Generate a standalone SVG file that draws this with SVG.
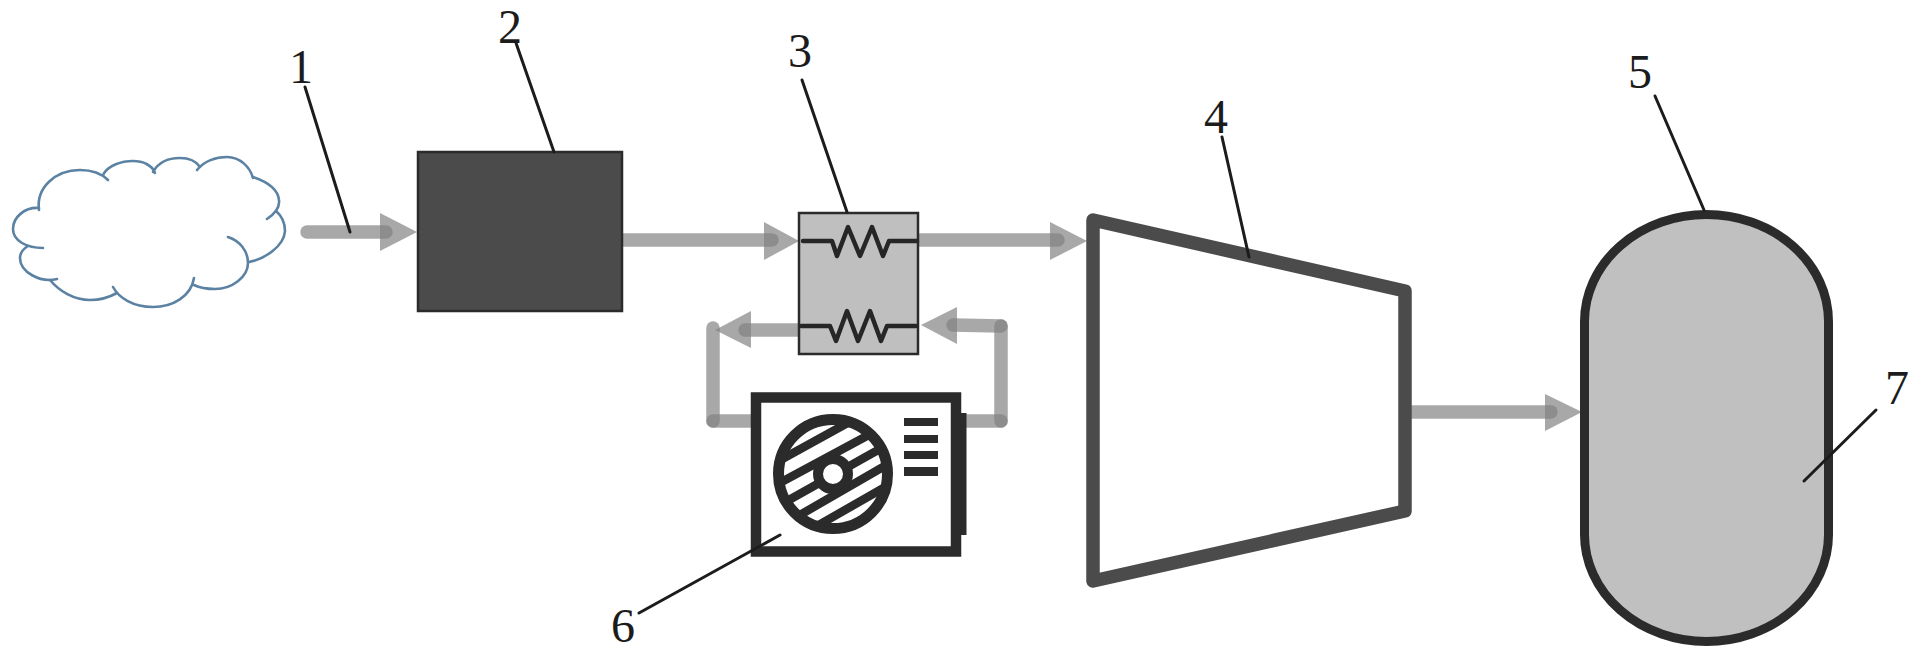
<svg xmlns="http://www.w3.org/2000/svg" width="1923" height="661" viewBox="0 0 1923 661">
<style>
.pipe{fill:none;stroke:#808080;stroke-opacity:.685;stroke-width:13.500;stroke-linecap:round;stroke-linejoin:round}
.head{fill:#808080;fill-opacity:.685}
.leader{fill:none;stroke:#1c1c1c;stroke-width:3;stroke-linecap:round}
.num{font-family:"Liberation Serif","Times New Roman",serif;font-size:48px;fill:#1c1c1c;text-anchor:middle}
.cloud{fill:none;stroke:#5b82a3;stroke-width:2.600;stroke-linecap:round}
.coil{fill:none;stroke:#262626;stroke-width:4.500;stroke-linejoin:round;stroke-linecap:round}
.stripe{fill:none;stroke:#2b2b2b;stroke-width:8.500}
.bar{fill:#2b2b2b}
</style>
<defs><clipPath id="fan"><circle cx="833" cy="474" r="56"/></clipPath></defs>
<rect width="1923" height="661" fill="#fff"/>
<g id="node-cloud" class="cloud">
<path d="M39,210C36,188 55,170 80,170C92,170 102,174 108,180"/>
<path d="M103,175C108,165 122,161 133,161C143,161 152,165 155,173"/>
<path d="M153,172C158,163 168,158 180,158C189,158 196,161 200,167"/>
<path d="M197,170C204,161 216,157 227,157C240,157 250,167 253,178"/>
<path d="M253,177C268,182 278,190 279,200C280,208 273,215 267,219"/>
<path d="M276,211C283,217 285,224 285,231C284,246 265,259 249,262"/>
<path d="M228,237C240,241 248,251 248,263C248,277 232,289 215,289C207,289 200,288 194,285"/>
<path d="M194,278C191,297 172,307 153,307C133,307 119,298 113,287"/>
<path d="M117,293C108,298 98,300 90,300C74,300 59,291 50,280"/>
<path d="M57,279C40,283 20,272 20,258C20,253 23,249 28,246"/>
<path d="M43,248C27,248 13,241 13,229C13,217 25,207 39,208"/>
</g>
<g id="connectors">
<path class="pipe" d="M307,232H386"/><polygon class="head" points="380,213 417,232 380,251"/>
<path class="pipe" d="M615,240H772"/><polygon class="head" points="764,222 799,241 764,260"/>
<path class="pipe" d="M910,240H1058"/><polygon class="head" points="1050,222 1087,241 1050,260"/>
<path class="pipe" d="M1400,412H1551"/><polygon class="head" points="1545,394 1582,412 1545,431"/>
<path class="pipe" d="M805,330H745"/><polygon class="head" points="751,311 715,330 751,348"/>
<path class="pipe" d="M713,328V421"/><path class="pipe" d="M713,421H760"/>
<path class="pipe" d="M1001,326L953,325"/><polygon class="head" points="957,307 921,325 957,344"/>
<path class="pipe" d="M1001,326V421"/><path class="pipe" d="M955,421H1001"/>
</g>
<g id="node-2"><rect x="418" y="152" width="204" height="159" fill="#4b4b4b" stroke="#2b2b2b" stroke-width="2.500"/></g>
<g id="node-3">
<rect x="799" y="213" width="119" height="141" fill="#bfbfbf" stroke="#2b2b2b" stroke-width="2.500"/>
<path class="coil" d="M803,241H832L837,256L848,227L860,256L872,227L883,256L889,241H917"/>
<path class="coil" d="M801,326H830L836,341L847,311L858,341L870,311L881,341L887,326H916"/>
</g>
<g id="node-4"><path d="M1093,220L1405,291V511L1093,581Z" fill="#fff" stroke="#4b4b4b" stroke-width="13.500" stroke-linejoin="round"/></g>
<g id="node-5"><rect x="1584.500" y="214.500" width="244" height="427" rx="122" ry="107" fill="#c0c0c0" stroke="#2b2b2b" stroke-width="9"/></g>
<g id="node-6">
<rect x="961" y="413" width="5.500" height="122" fill="#2b2b2b"/>
<rect x="756" y="397.500" width="200" height="154" fill="#fff" stroke="#2b2b2b" stroke-width="10.500"/>
<g class="stripe" clip-path="url(#fan)">
<path d="M773,464L853,420M774,486L878,430M780,505L887,445M793,519L890,463M803,534L887,486"/>
</g>
<circle cx="833" cy="474" r="54.500" fill="none" stroke="#2b2b2b" stroke-width="11"/>
<circle cx="833" cy="474" r="15" fill="#fff" stroke="#2b2b2b" stroke-width="10"/>
<rect class="bar" x="904" y="418" width="34" height="8"/>
<rect class="bar" x="904" y="435" width="34" height="8"/>
<rect class="bar" x="904" y="451" width="34" height="8"/>
<rect class="bar" x="904" y="467" width="34" height="9"/>
</g>
<g id="leaders">
<path class="leader" d="M305,87L350,232"/>
<path class="leader" d="M516,43L554,152"/>
<path class="leader" d="M802,80L847,212"/>
<path class="leader" d="M1222,137L1249,257"/>
<path class="leader" d="M1655,96L1704,210"/>
<path class="leader" d="M639,613L780,535"/>
<path class="leader" d="M1876,410L1804,481"/>
</g>
<g id="labels">
<text class="num" x="301" y="83">1</text>
<text class="num" x="510" y="43">2</text>
<text class="num" x="800" y="67">3</text>
<text class="num" x="1216" y="133">4</text>
<text class="num" x="1640" y="88">5</text>
<text class="num" x="623" y="642">6</text>
<text class="num" x="1897" y="404">7</text>
</g>
</svg>
